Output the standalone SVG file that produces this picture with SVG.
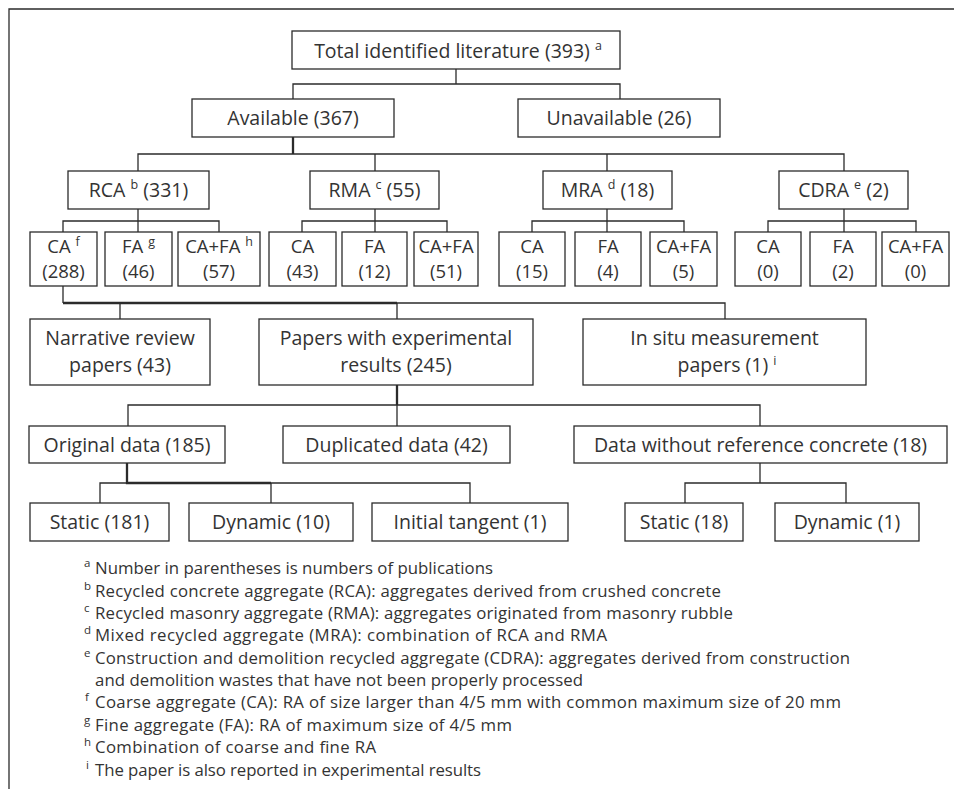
<svg xmlns="http://www.w3.org/2000/svg" width="954" height="789" viewBox="0 0 954 789">
<style>
  .box { fill: #ffffff; stroke: #2b2b2b; stroke-width: 1.3; }
  .t { font-family: "Open Sans", "Noto Sans", sans-serif; font-size: 19.5px; fill: #333333; text-anchor: middle; }
  .s { font-size: 18.5px; }
  .fn { font-family: "Open Sans", "Noto Sans", sans-serif; font-size: 16.8px; fill: #333333; }
  .sup { font-size: 12.5px; }
  .fsup { font-family: "Open Sans", "Noto Sans", sans-serif; font-size: 11.5px; fill: #333333; }
  .conn path { fill: none; stroke: #2b2b2b; stroke-width: 1.3; }
  .conn path.bold { stroke-width: 2.3; }
  .frame { fill: none; stroke: #2b2b2b; stroke-width: 1.3; }
</style>
<rect x="0" y="0" width="954" height="789" fill="#ffffff"/>
<path class="frame" d="M9,789 V9 H954"/>

<g id="connectors" class="conn">
  <path d="M456,69 V84 M293,99 V84 H620 V99"/>
  <path class="bold" d="M293,137 V154"/>
  <path d="M138,171 V154 H844 V171 M375,154 V171 M607,154 V171"/>
  <path d="M138,209 V221 M63,232 V221 H219 V232 M138,221 V232"/>
  <path d="M375,209 V221 M302,232 V221 H447 V232 M375,221 V232"/>
  <path d="M607,209 V221 M532,232 V221 H684 V232 M607,221 V232"/>
  <path d="M844,209 V221 M768,232 V221 H916 V232 M844,221 V232"/>
  <path d="M63,286 V303 M397,303 H725 V319 M120,303 V319 M397,303 V319"/>
  <path class="bold" d="M63,303 H397"/>
  <path class="bold" d="M397,385 V405"/>
  <path d="M128,426 V405 H760 V426 M397,405 V426"/>
  <path class="bold" d="M127,463 V483 H271"/>
  <path d="M100,503 V483 H127 M271,483 H470 V503 M271,483 V503"/>
  <path d="M760,463 V483 M685,503 V483 H846 V503"/>
</g>

<g id="total">
  <rect class="box" x="292" y="31" width="328" height="38"/>
  <text class="t" x="458" y="58">Total identified literature (393) <tspan class="sup" dy="-8">a</tspan></text>
</g>
<g id="available">
  <rect class="box" x="192" y="99" width="202" height="38"/>
  <text class="t" x="293" y="125">Available (367)</text>
</g>
<g id="unavailable">
  <rect class="box" x="518" y="99" width="202" height="38"/>
  <text class="t" x="619" y="125">Unavailable (26)</text>
</g>

<g id="rca">
  <rect class="box" x="68" y="171" width="141" height="38"/>
  <text class="t" x="138.5" y="197">RCA <tspan class="sup" dy="-8">b</tspan><tspan dy="8"> (331)</tspan></text>
</g>
<g id="rma">
  <rect class="box" x="310" y="171" width="129" height="38"/>
  <text class="t" x="374.5" y="197">RMA <tspan class="sup" dy="-8">c</tspan><tspan dy="8"> (55)</tspan></text>
</g>
<g id="mra">
  <rect class="box" x="543" y="171" width="129" height="38"/>
  <text class="t" x="607.5" y="197">MRA <tspan class="sup" dy="-8">d</tspan><tspan dy="8"> (18)</tspan></text>
</g>
<g id="cdra">
  <rect class="box" x="779" y="171" width="129" height="38"/>
  <text class="t" x="843.5" y="197">CDRA <tspan class="sup" dy="-8">e</tspan><tspan dy="8"> (2)</tspan></text>
</g>

<g id="rca-ca">
  <rect class="box" x="30" y="232" width="67" height="54"/>
  <text class="t s" x="63.5" y="252.5">CA <tspan class="sup" dy="-7">f</tspan><tspan x="63.5" y="278">(288)</tspan></text>
</g>
<g id="rca-fa">
  <rect class="box" x="105" y="232" width="67" height="54"/>
  <text class="t s" x="138.5" y="252.5">FA <tspan class="sup" dy="-7">g</tspan><tspan x="138.5" y="278">(46)</tspan></text>
</g>
<g id="rca-cafa">
  <rect class="box" x="178" y="232" width="82" height="54"/>
  <text class="t s" x="219" y="252.5">CA+FA <tspan class="sup" dy="-7">h</tspan><tspan x="219" y="278">(57)</tspan></text>
</g>

<g id="rma-ca">
  <rect class="box" x="269" y="232" width="67" height="54"/>
  <text class="t s" x="302.5" y="252.5">CA<tspan x="302.5" y="278">(43)</tspan></text>
</g>
<g id="rma-fa">
  <rect class="box" x="342" y="232" width="65" height="54"/>
  <text class="t s" x="374.5" y="252.5">FA<tspan x="374.5" y="278">(12)</tspan></text>
</g>
<g id="rma-cafa">
  <rect class="box" x="414" y="232" width="64" height="54"/>
  <text class="t s" x="446" y="252.5">CA+FA<tspan x="446" y="278">(51)</tspan></text>
</g>

<g id="mra-ca">
  <rect class="box" x="499" y="232" width="66" height="54"/>
  <text class="t s" x="532" y="252.5">CA<tspan x="532" y="278">(15)</tspan></text>
</g>
<g id="mra-fa">
  <rect class="box" x="575" y="232" width="66" height="54"/>
  <text class="t s" x="608" y="252.5">FA<tspan x="608" y="278">(4)</tspan></text>
</g>
<g id="mra-cafa">
  <rect class="box" x="650" y="232" width="67" height="54"/>
  <text class="t s" x="683.5" y="252.5">CA+FA<tspan x="683.5" y="278">(5)</tspan></text>
</g>

<g id="cdra-ca">
  <rect class="box" x="735" y="232" width="66" height="54"/>
  <text class="t s" x="768" y="252.5">CA<tspan x="768" y="278">(0)</tspan></text>
</g>
<g id="cdra-fa">
  <rect class="box" x="810" y="232" width="66" height="54"/>
  <text class="t s" x="843" y="252.5">FA<tspan x="843" y="278">(2)</tspan></text>
</g>
<g id="cdra-cafa">
  <rect class="box" x="882" y="232" width="67" height="54"/>
  <text class="t s" x="915.5" y="252.5">CA+FA<tspan x="915.5" y="278">(0)</tspan></text>
</g>

<g id="narrative">
  <rect class="box" x="30" y="319" width="180" height="66"/>
  <text class="t" x="120" y="345">Narrative review<tspan x="120" y="372">papers (43)</tspan></text>
</g>
<g id="papers">
  <rect class="box" x="259" y="319" width="274" height="66"/>
  <text class="t" x="396" y="345">Papers with experimental<tspan x="396" y="372">results (245)</tspan></text>
</g>
<g id="insitu">
  <rect class="box" x="583" y="319" width="283" height="66"/>
  <text class="t" x="724.5" y="345">In situ measurement<tspan x="727" y="372">papers (1) </tspan><tspan class="sup" dy="-7">i</tspan></text>
</g>

<g id="original">
  <rect class="box" x="29" y="426" width="196" height="37"/>
  <text class="t" x="127" y="452">Original data (185)</text>
</g>
<g id="duplicated">
  <rect class="box" x="283" y="426" width="227" height="37"/>
  <text class="t" x="396.5" y="452">Duplicated data (42)</text>
</g>
<g id="noref">
  <rect class="box" x="574" y="426" width="373" height="37"/>
  <text class="t" x="760.5" y="452">Data without reference concrete (18)</text>
</g>

<g id="static181">
  <rect class="box" x="30" y="503" width="139" height="38"/>
  <text class="t" x="99.5" y="529">Static (181)</text>
</g>
<g id="dynamic10">
  <rect class="box" x="189" y="503" width="164" height="38"/>
  <text class="t" x="271" y="529">Dynamic (10)</text>
</g>
<g id="initial">
  <rect class="box" x="372" y="503" width="196" height="38"/>
  <text class="t" x="470" y="529">Initial tangent (1)</text>
</g>
<g id="static18">
  <rect class="box" x="625" y="503" width="118" height="38"/>
  <text class="t" x="684" y="529">Static (18)</text>
</g>
<g id="dynamic1">
  <rect class="box" x="775" y="503" width="144" height="38"/>
  <text class="t" x="847" y="529">Dynamic (1)</text>
</g>

<g id="footnotes">
  <text class="fsup" x="84" y="567.3">a</text>
  <text class="fn" x="95" y="574.3" textLength="398" lengthAdjust="spacing">Number in parentheses is numbers of publications</text>
  <text class="fsup" x="84" y="589.7">b</text>
  <text class="fn" x="95" y="596.7" textLength="626" lengthAdjust="spacing">Recycled concrete aggregate (RCA): aggregates derived from crushed concrete</text>
  <text class="fsup" x="84" y="612">c</text>
  <text class="fn" x="95" y="619" textLength="638" lengthAdjust="spacing">Recycled masonry aggregate (RMA): aggregates originated from masonry rubble</text>
  <text class="fsup" x="84" y="634.4">d</text>
  <text class="fn" x="95" y="641.4" textLength="512" lengthAdjust="spacing">Mixed recycled aggregate (MRA): combination of RCA and RMA</text>
  <text class="fsup" x="84" y="656.7">e</text>
  <text class="fn" x="95" y="663.7" textLength="755" lengthAdjust="spacing">Construction and demolition recycled aggregate (CDRA): aggregates derived from construction</text>
  <text class="fn" x="95" y="686" textLength="488" lengthAdjust="spacing">and demolition wastes that have not been properly processed</text>
  <text class="fsup" x="85" y="701.4">f</text>
  <text class="fn" x="95" y="708.4" textLength="746" lengthAdjust="spacing">Coarse aggregate (CA): RA of size larger than 4/5 mm with common maximum size of 20 mm</text>
  <text class="fsup" x="84" y="723.8">g</text>
  <text class="fn" x="95" y="730.8" textLength="417" lengthAdjust="spacing">Fine aggregate (FA): RA of maximum size of 4/5 mm</text>
  <text class="fsup" x="84" y="746.1">h</text>
  <text class="fn" x="95" y="753.1" textLength="281" lengthAdjust="spacing">Combination of coarse and fine RA</text>
  <text class="fsup" x="86" y="768.5">i</text>
  <text class="fn" x="95" y="775.5" textLength="386" lengthAdjust="spacing">The paper is also reported in experimental results</text>
</g>
</svg>
